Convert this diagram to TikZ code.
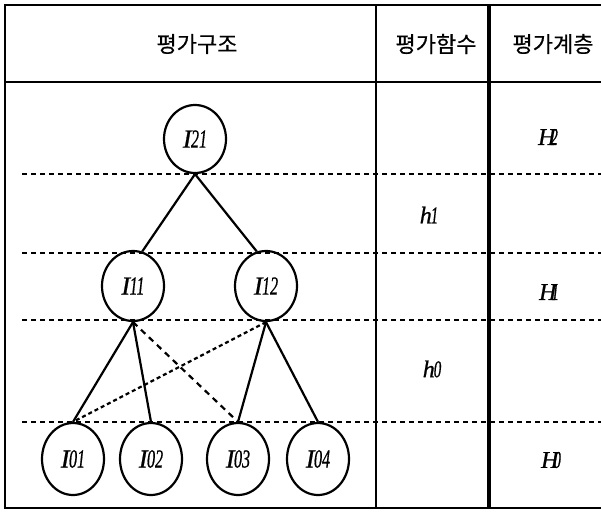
\documentclass[tikz,border=0pt]{standalone}
\usepackage{fontspec}
\usepackage{graphicx}
\setmainfont{Liberation Serif}
\newfontfamily\kr{Noto Sans CJK KR}[BoldFont={Noto Sans CJK KR}, BoldFeatures={FakeBold=0.6}]
\newfontfamily\labfont{Liberation Serif}[BoldItalicFont={Liberation Serif Italic}, BoldItalicFeatures={FakeBold=0.8}]
\usetikzlibrary{shapes.geometric}

% italic symbol with a narrow index that sits close to it
\newcommand{\symidx}[3]{{\labfont\bfseries\itshape #1\kern#3\scalebox{0.62}[1]{#2}}}

\begin{document}
\begin{tikzpicture}[x=1pt,y=-1pt,
  frame/.style={line width=1.8pt},
  thickrule/.style={line width=3.2pt},
  level/.style={line width=2.2pt, dash pattern=on 5pt off 4pt},
  item/.style={draw, ellipse, line width=2.2pt, inner sep=0pt,
               minimum width=62pt, font=\fontsize{26}{26}\selectfont},
  link/.style={line width=2.2pt},
  crossA/.style={line width=2.2pt, dash pattern=on 6pt off 5pt},
  crossB/.style={line width=2.2pt, dash pattern=on 4pt off 3pt},
  head/.style={font=\kr\bfseries\fontsize{22}{22}\selectfont},
  fn/.style={font=\fontsize{24}{24}\selectfont}]
\useasboundingbox (0,0) rectangle (601,513);

% table frame and columns
\draw[frame] (601,5) -- (5,5) -- (5,508) -- (601,508);
\draw[frame] (5,82) -- (601,82);
\draw[frame] (376,5) -- (376,508);
\draw[thickrule] (489,5) -- (489,508);

% level separators
\foreach \yy in {174,253,320,422}
  \draw[level] (22,\yy) -- (601,\yy);

% header texts
\node[head] (hs) at (197,44) {평가구조};
\node[head] (hf) at (436,44) {평가함수};
\node[head] (hl) at (553,44) {평가계층};

% evaluation tree
\node[item, minimum height=68pt] (I21) at (195,139) {\symidx{I}{21}{-0.5pt}};
\node[item, minimum height=70pt] (I11) at (133,286) {\symidx{I}{11}{-0.5pt}};
\node[item, minimum height=70pt] (I12) at (266,286) {\symidx{I}{12}{-0.5pt}};
\node[item, minimum height=72pt] (I01) at (73,459)  {\symidx{I}{01}{-0.5pt}};
\node[item, minimum height=72pt] (I02) at (151,459) {\symidx{I}{02}{-0.5pt}};
\node[item, minimum height=72pt] (I03) at (238,459) {\symidx{I}{03}{-0.5pt}};
\node[item, minimum height=72pt] (I04) at (318,459) {\symidx{I}{04}{-0.5pt}};

\draw[link] (I21.south) -- (I11.75);
\draw[link] (I21.south) -- (I12.105);
\draw[link] (I11.south) -- (I01.north);
\draw[link] (I11.south) -- (I02.north);
\draw[link] (I12.south) -- (I03.north);
\draw[link] (I12.south) -- (I04.north);
\draw[crossA] (I11.south) -- (I03.north);
\draw[crossB] (I12.south) -- (I01.north);

% evaluation functions
\node[fn] (h1) at (429,215) {\symidx{h}{1}{-1pt}};
\node[fn] (h0) at (432,369) {\symidx{h}{0}{-1pt}};

% evaluation levels
\node[fn] (H2) at (548,137) {\symidx{H}{2}{-5pt}};
\node[fn] (H1) at (549,292) {\symidx{H}{1}{-5pt}};
\node[fn] (H0) at (551,460) {\symidx{H}{0}{-5pt}};
\end{tikzpicture}
\end{document}
